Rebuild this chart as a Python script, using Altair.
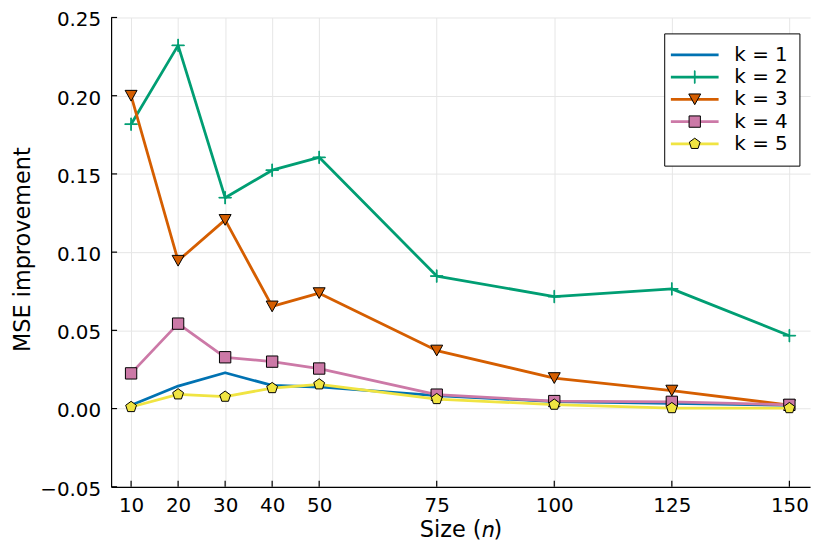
import altair as alt
import pandas as pd

# ---------------- data ----------------
sizes = [10, 20, 30, 40, 50, 75, 100, 125, 150]
k_values = ["1", "2", "3", "4", "5"]
series_names = ["k = 1", "k = 2", "k = 3", "k = 4", "k = 5"]
k1 = [0.0021, 0.0144, 0.0229, 0.0148, 0.0138, 0.0083, 0.0045, 0.0034, 0.0020]
k2 = [0.1818, 0.2322, 0.1348, 0.1524, 0.1606, 0.0847, 0.0716, 0.0765, 0.0466]
k3 = [0.2000, 0.0945, 0.1206, 0.0653, 0.0738, 0.0371, 0.0195, 0.0115, 0.0022]
k4 = [0.0225, 0.0543, 0.0328, 0.0300, 0.0256, 0.0089, 0.0048, 0.0043, 0.0024]
k5 = [0.0010, 0.0091, 0.0076, 0.0131, 0.0155, 0.0061, 0.0025, 0.0003, 0.0003]
x_ticks = [10, 20, 30, 40, 50, 75, 100, 125, 150]
y_ticks = [-0.05, 0.0, 0.05, 0.10, 0.15, 0.20, 0.25]

# ---------------- styles ----------------
colors = ["#0072B2", "#009E73", "#D55E00", "#CC79A7", "#F0E442"]
marker_strokes = ["black", "#009E73", "black", "black", "black"]
FONT = "DejaVu Sans"

shape_paths = [
    "M0,0",
    "M-1.05,-0.06H-0.06V-1.05H0.06V-0.06H1.05V0.06H0.06V1.05H-0.06V0.06H-1.05Z",
    "M-1,-0.9L1,-0.9L0,0.9Z",
    "M-0.95,-0.95H0.95V0.95H-0.95Z",
    "M0,-0.95L0.904,-0.294L0.558,0.769L-0.558,0.769L-0.904,-0.294Z",
]
line_path = "M-4.364,0L4.364,0"

rows = []
for kv, name, vals in zip(k_values, series_names, [k1, k2, k3, k4, k5]):
    for s, v in zip(sizes, vals):
        rows.append({"size": s, "value": v, "k": kv, "series": name})
df = pd.DataFrame(rows)

W, H = 703, 472
LX, LY = 556.3, 16
MSIZE = 144

x_scale = alt.Scale(domain=[5.75, 154.4], nice=False, zero=False)
y_scale = alt.Scale(domain=[-0.05, 0.25], nice=False, zero=False)

common_axis = dict(
    grid=True, gridColor="#e6e6e6", gridWidth=1,
    ticks=False, tickSize=0,
    domainColor="black", domainWidth=1.2,
    labelFont=FONT, labelFontSize=20, labelColor="black",
    titleFont=FONT, titleFontWeight="normal", titleColor="black",
    labelFlush=False, labelOverlap=False,
)
x_axis = alt.Axis(values=x_ticks, title="Size (𝑛)", labelPadding=9,
                  titleFontSize=22.5, titleBaseline="alphabetic", titleY=50.5,
                  **common_axis)
y_axis = alt.Axis(values=y_ticks, format=".2f", title="MSE improvement",
                  labelPadding=10.5, labelOffset=2.4,
                  titleFontSize=22.5, titleAngle=270, titleX=-82.5, titleY=233,
                  titleBaseline="alphabetic", **common_axis)

X = alt.X("size:Q", scale=x_scale, axis=x_axis)
Y = alt.Y("value:Q", scale=y_scale, axis=y_axis)

legend_common = dict(
    title=None, orient="none", legendX=LX, legendY=LY, direction="vertical",
    symbolOffset=9.2,
    labelFont=FONT, labelFontSize=20, labelOffset=29.8, labelLimit=300,
    padding=11.5, rowPadding=2.4,
)
legend_a = alt.Legend(
    symbolType=line_path, symbolSize=121, symbolStrokeWidth=2.8,
    symbolFillColor="transparent",
    labelExpr="'k = ' + datum.label", labelColor="black",
    strokeColor="black", fillColor="white", **legend_common,
)
legend_b = alt.Legend(symbolSize=MSIZE, symbolStrokeWidth=1, labelOpacity=0, **legend_common)

color_enc = alt.Color("k:N", scale=alt.Scale(domain=k_values, range=colors), legend=legend_a)
fill_enc = alt.Fill("series:N", scale=alt.Scale(domain=series_names, range=colors), legend=legend_b)
stroke_enc = alt.Stroke("series:N", scale=alt.Scale(domain=series_names, range=marker_strokes), legend=legend_b)
shape_enc = alt.Shape("series:N", scale=alt.Scale(domain=series_names, range=shape_paths), legend=legend_b)

layers = []

# inside tick marks
ytick_df = pd.DataFrame({"value": y_ticks})
xtick_df = pd.DataFrame({"size": x_ticks})
layers.append(
    alt.Chart(ytick_df).mark_rule(color="black", strokeWidth=1.2).encode(
        y=Y, x=alt.value(0), x2=alt.value(6))
)
layers.append(
    alt.Chart(xtick_df).mark_rule(color="black", strokeWidth=1.2).encode(
        x=X, y=alt.value(H), y2=alt.value(H - 6))
)

base = alt.Chart(df)
for i, kv in enumerate(k_values):
    layers.append(
        base.transform_filter(alt.datum.k == kv)
        .mark_line(strokeWidth=2.8, strokeJoin="round")
        .encode(x=X, y=Y, color=color_enc)
    )
    if i > 0:
        layers.append(
            base.transform_filter(alt.datum.k == kv)
            .mark_point(filled=True, opacity=1, size=MSIZE, strokeWidth=1)
            .encode(x=X, y=Y, fill=fill_enc, stroke=stroke_enc, shape=shape_enc)
        )

chart = alt.layer(*layers).properties(
    width=W, height=H,
    autosize=alt.AutoSizeParams(type="none"),
    padding={"left": 103.7, "top": 8, "right": 12, "bottom": 58},
    background="white",
).configure_view(strokeWidth=0)

chart.save("out.html", embed_options={"renderer": "svg", "actions": False})
